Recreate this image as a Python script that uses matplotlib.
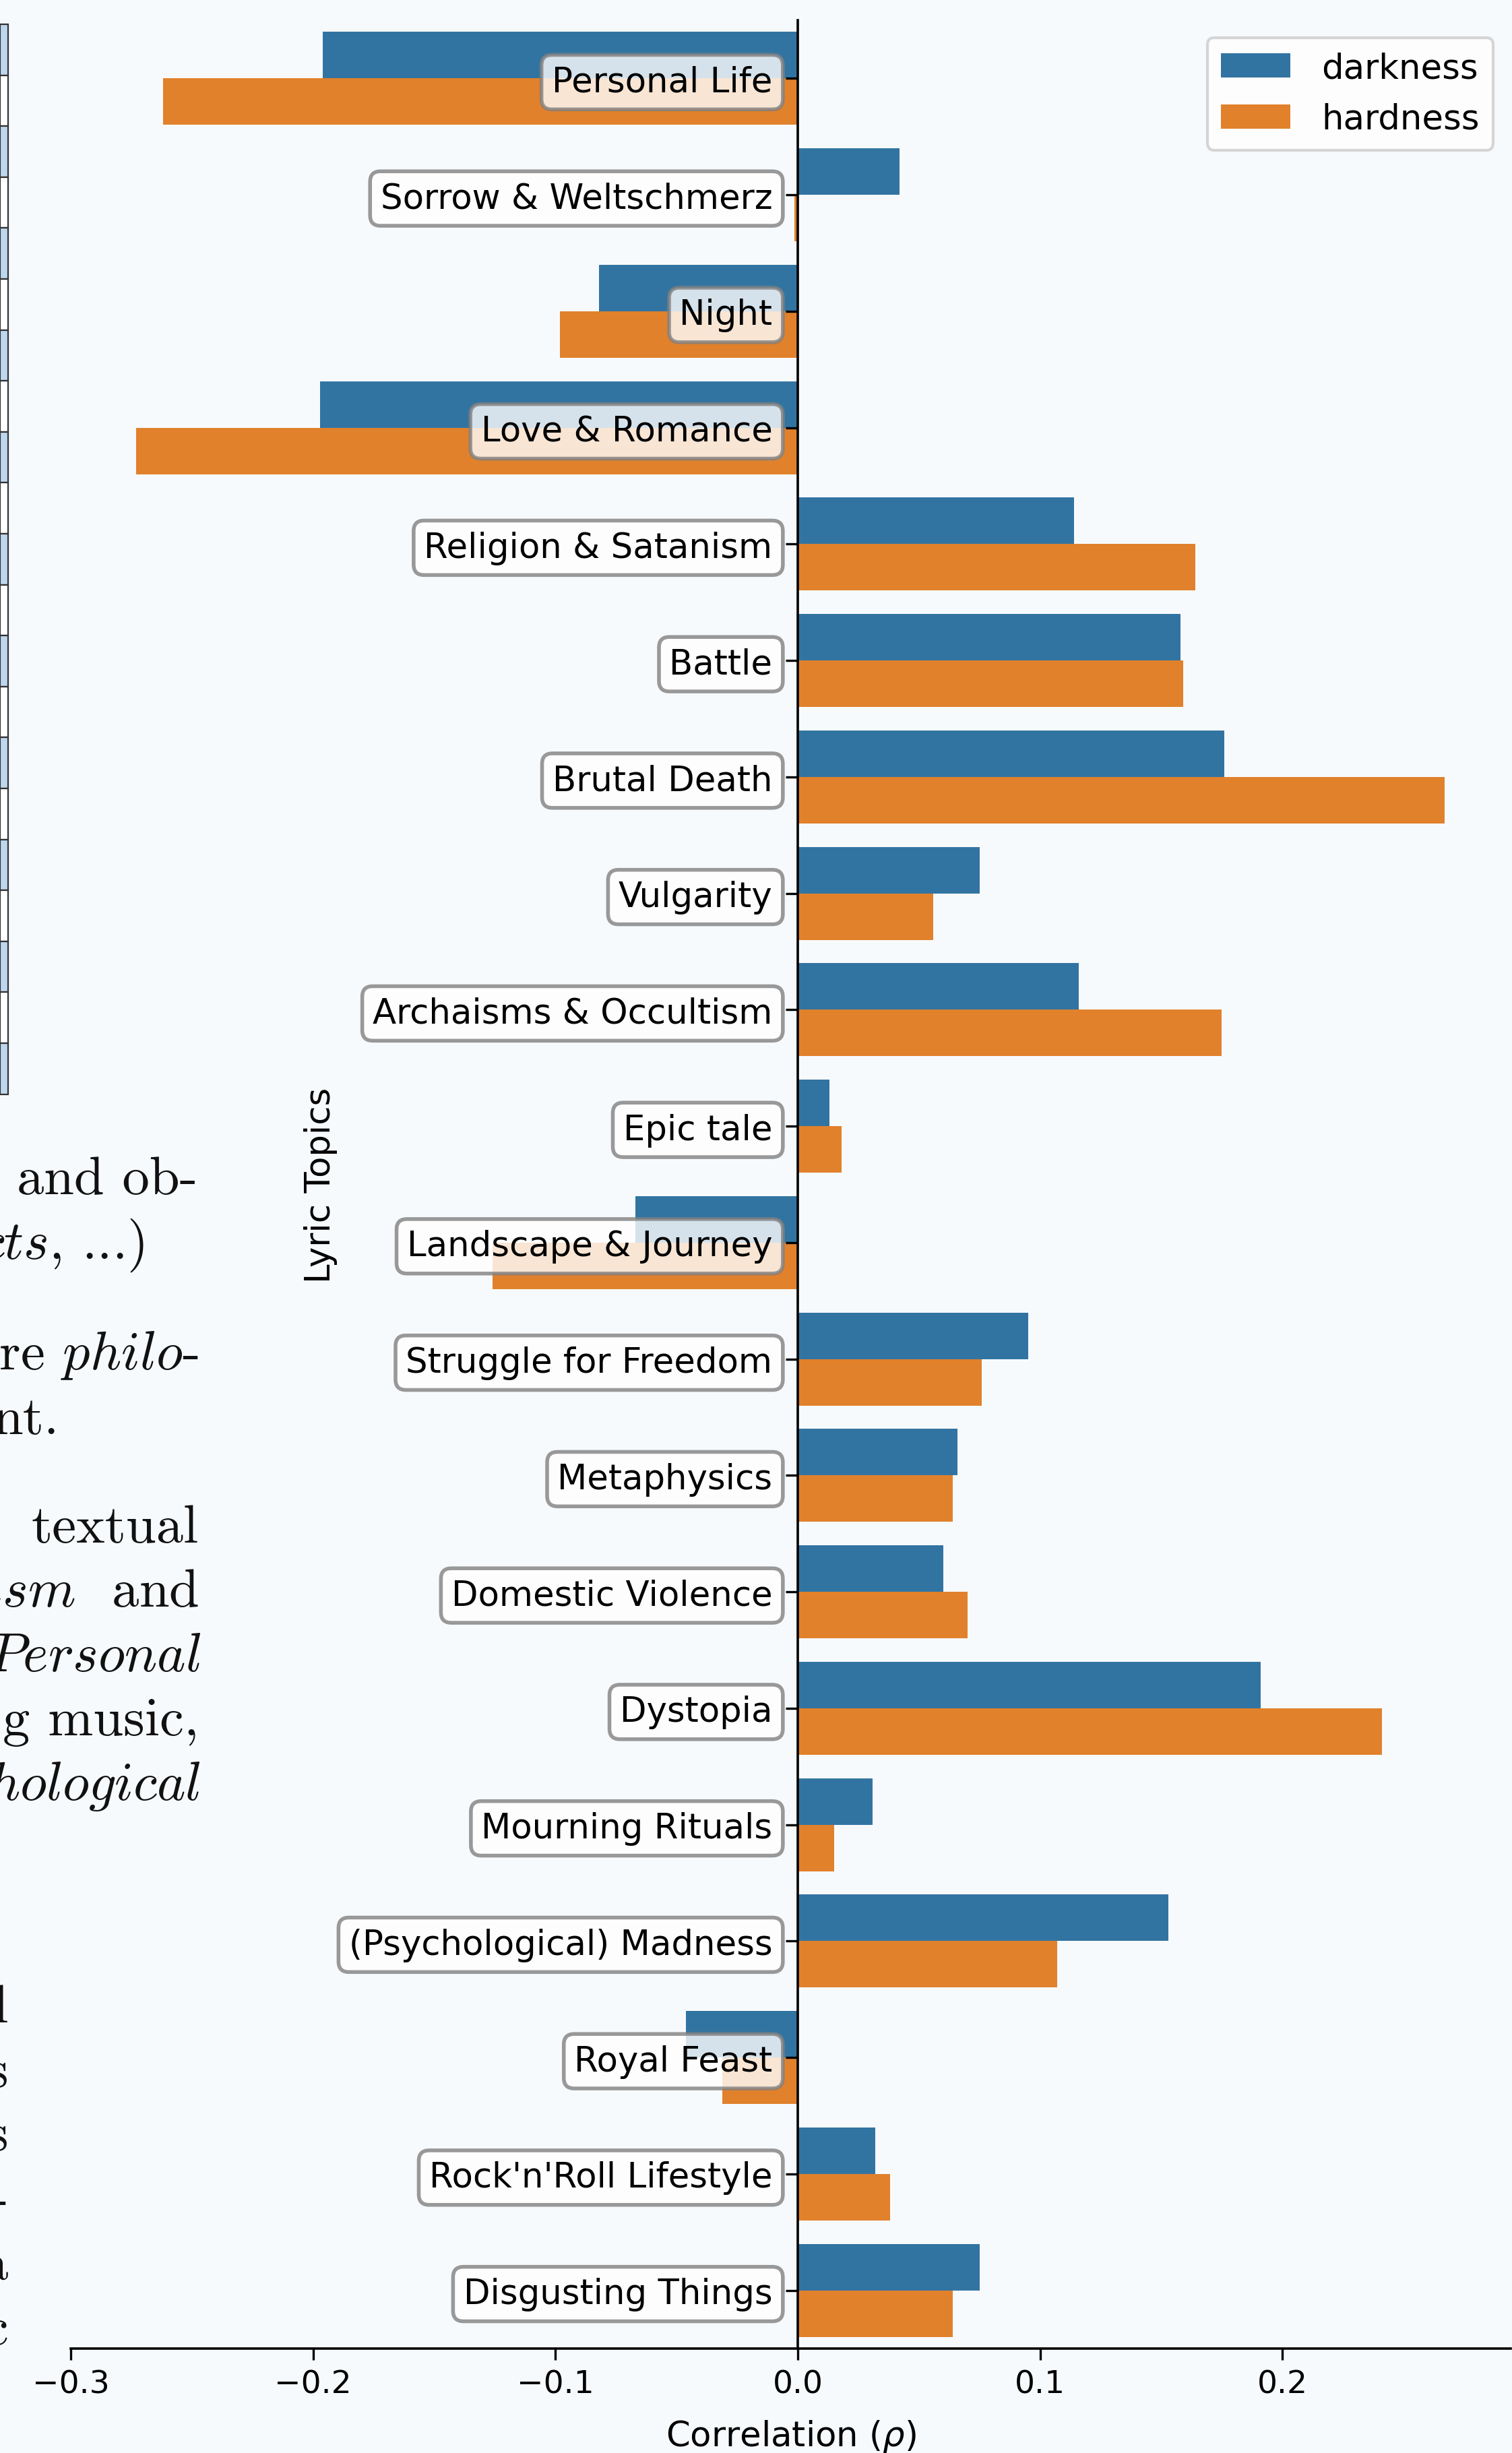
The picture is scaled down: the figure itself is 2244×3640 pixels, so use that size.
import matplotlib
matplotlib.use("Agg")
import numpy as np
import matplotlib.pyplot as plt
from matplotlib.patches import Rectangle

# lyric topics and their correlation with darkness / hardness
topics = ["Personal Life", "Sorrow & Weltschmerz", "Night", "Love & Romance",
          "Religion & Satanism", "Battle", "Brutal Death", "Vulgarity",
          "Archaisms & Occultism", "Epic tale", "Landscape & Journey",
          "Struggle for Freedom", "Metaphysics", "Domestic Violence", "Dystopia",
          "Mourning Rituals", "(Psychological) Madness", "Royal Feast",
          "Rock'n'Roll Lifestyle", "Disgusting Things"]
darkness = [-0.196, 0.042, -0.082, -0.197, 0.114, 0.158, 0.176, 0.075,
            0.116, 0.013, -0.067, 0.095, 0.066, 0.060, 0.191, 0.031,
            0.153, -0.046, 0.032, 0.075]
hardness = [-0.262, -0.0015, -0.098, -0.273, 0.164, 0.159, 0.267, 0.056,
            0.175, 0.018, -0.126, 0.076, 0.064, 0.070, 0.241, 0.015,
            0.107, -0.031, 0.038, 0.064]
series = ["darkness", "hardness"]
xticks = [-0.3, -0.2, -0.1, 0.0, 0.1, 0.2]

# bits of the paper page showing behind the figure (text, right edge px, baseline px)
page_lines = [("and ob-", 293, 1772), (r"$\mathit{cts}$, ...)", 214, 1868),
              (r"ere $\mathit{philo}$-", 295, 2032), ("nt.", 88, 2128),
              ("textual", 295, 2289), (r"$\mathit{ism}$  and", 295, 2384),
              (r"$\mathit{Personal}$", 298, 2480), ("g music,", 295, 2575),
              (r"$\mathit{hological}$", 298, 2671),
              ("l", 12, 3001), ("s", 12, 3097), ("s", 12, 3191),
              ("-", 12, 3287), ("a", 12, 3383), ("c", 12, 3479)]

W, H = 2244, 3641
blue = "#3274a1"
orange = "#e1812c"
bg = "#f7fafd"
fs = 18.5

fig = plt.figure(figsize=(W / 200, H / 200), dpi=200, facecolor=bg)

# table strip at the left edge
for k in range(21):
    y0 = 37 + 75.6 * k
    fc = "#bdd7ee" if k % 2 == 0 else "white"
    fig.patches.append(Rectangle((0, 1 - (y0 + 75.6) / H), 12 / W, 75.6 / H,
                                 transform=fig.transFigure, facecolor=fc,
                                 edgecolor="#333333", linewidth=0.8))

for txt, xr, yb in page_lines:
    fig.text(xr / W, 1 - yb / H, txt, ha="right", va="baseline", fontsize=29,
             family="cmr10", math_fontfamily="cm", color="#111111")

ax = fig.add_axes([105 / W, 155 / H, (2242 - 105) / W, (3486 - 31) / H])
ax.set_facecolor(bg)

y = np.arange(len(topics))
ax.barh(y - 0.2, darkness, height=0.4, color=blue, label=series[0])
ax.barh(y + 0.2, hardness, height=0.4, color=orange, label=series[1])

ax.set_ylim(len(topics) - 0.5, -0.5)
ax.set_xlim(-0.3, 0.2942)
ax.set_xticks(xticks)
ax.set_yticks(y)
ax.set_yticklabels(topics, va="center")

for side in ["top", "right"]:
    ax.spines[side].set_visible(False)
ax.spines["left"].set_position(("data", 0))
ax.spines["left"].set_linewidth(1.3)
ax.spines["bottom"].set_linewidth(1.3)
ax.tick_params(axis="y", length=6.5, width=1.2, pad=7, labelsize=fs)
ax.tick_params(axis="x", length=6, width=1.2, pad=5, labelsize=17)

for t in ax.get_yticklabels():
    t.set_bbox(dict(boxstyle="round,pad=0.3", facecolor="white",
                    edgecolor="gray", linewidth=2, alpha=0.8))

ax.set_xlabel(r"Correlation ($\rho$)", fontsize=fs, labelpad=10)
ax.set_ylabel("Lyric Topics", fontsize=fs, labelpad=6)

leg = ax.legend(loc="upper right", fontsize=fs, handlelength=2.0,
                handletextpad=0.9, borderaxespad=0.5)
leg.get_frame().set_linewidth(1.5)

fig.savefig("out.png", dpi=200, facecolor=bg)
